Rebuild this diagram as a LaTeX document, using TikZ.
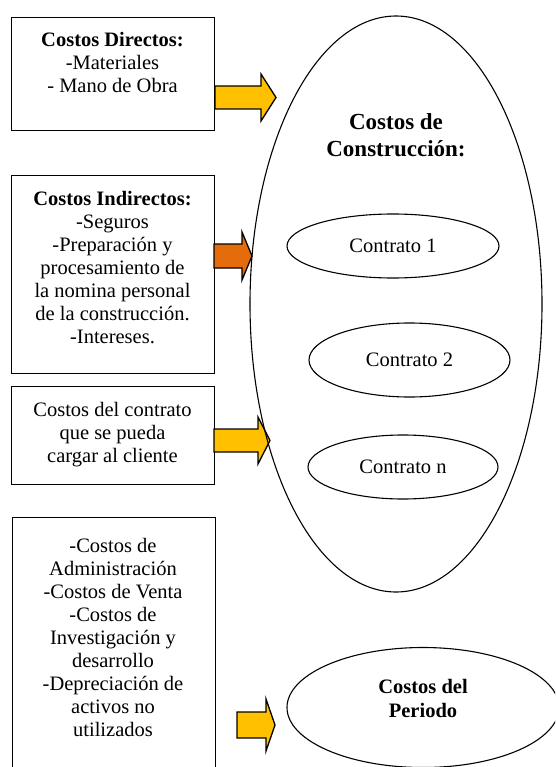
\documentclass[tikz,border=0pt]{standalone}
\usepackage{fontspec}
\setmainfont{Liberation Serif}
\usetikzlibrary{shapes.geometric,positioning}
\definecolor{amarillo}{HTML}{FFC000}
\definecolor{naranja}{HTML}{E46C0A}

\begin{document}
\begin{tikzpicture}[x=1pt,y=-1pt,
  caja/.style={draw, line width=1.3pt, minimum width=203pt, inner sep=0pt, anchor=north west},
  texto/.style={align=center, inner sep=0pt, anchor=base, font=\fontsize{20.5}{23}\selectfont},
  ovalo/.style={ellipse, draw, line width=1.1pt, inner sep=0pt, font=\fontsize{20.5}{23}\selectfont},
  flecha/.style={draw, line width=1.3pt, line join=miter}]
\useasboundingbox (0,0) rectangle (555,767);
\clip (0,0) rectangle (555,767);
% cajas de la izquierda
\node[caja, minimum height=113pt] (dir) at (11,17) {};
\node[caja, minimum height=198pt] (ind) at (11,175) {};
\node[caja, minimum height=98pt] (cli) at (11,386) {};
\node[caja, minimum height=280pt] (adm) at (12,517) {};
\node[texto] (tdir) at (112.5,93) {\textbf{Costos Directos:}\\-Materiales\\- Mano de Obra};
\node[texto] (tind) at (112.5,343) {\textbf{Costos Indirectos:}\\-Seguros\\-Preparación y\\procesamiento de\\la nomina personal\\de la construcción.\\-Intereses.};
\node[texto] (tcli) at (112.5,462.5) {Costos del contrato\\que se pueda\\cargar al cliente};
\node[texto] (tadm) at (113,736) {-Costos de\\Administración\\-Costos de Venta\\-Costos de\\Investigación y\\desarrollo\\-Depreciación de\\activos no\\utilizados};
% flechas
\draw[flecha, fill=amarillo] (215,86) -- (261,86) -- (261,74) -- (276,97.5) -- (261,121) -- (261,109) -- (215,109) -- cycle;
\draw[flecha, fill=naranja] (214,244) -- (242,244) -- (242,232) -- (252,256) -- (242,280) -- (242,268) -- (214,268) -- cycle;
\draw[flecha, fill=amarillo] (214,429) -- (258,429) -- (258,417) -- (270,440.5) -- (258,464) -- (258,452) -- (214,452) -- cycle;
\draw[flecha, fill=amarillo] (237,712) -- (266,712) -- (266,699) -- (275,725) -- (266,751) -- (266,738) -- (237,738) -- cycle;
% ovalos
\node[ovalo, minimum width=292pt, minimum height=576pt] (cons) at (396,304) {};
\node[texto, font=\fontsize{23}{27}\selectfont\bfseries] (tcons) at (396,157) {Costos de\\Construcción:};
\node[ovalo, minimum width=212pt, minimum height=64pt] (c1) at (393,246) {Contrato 1};
\node[ovalo, minimum width=201pt, minimum height=74pt] (c2) at (409.5,360) {Contrato 2};
\node[ovalo, minimum width=190pt, minimum height=64pt] (cn) at (403,467) {Contrato n};
\node[ovalo, minimum width=272pt, minimum height=120pt] (per) at (423,707.5) {};
\node[texto, font=\fontsize{20.5}{24}\selectfont\bfseries] (tper) at (423,717) {Costos del\\Periodo};
\end{tikzpicture}
\end{document}
